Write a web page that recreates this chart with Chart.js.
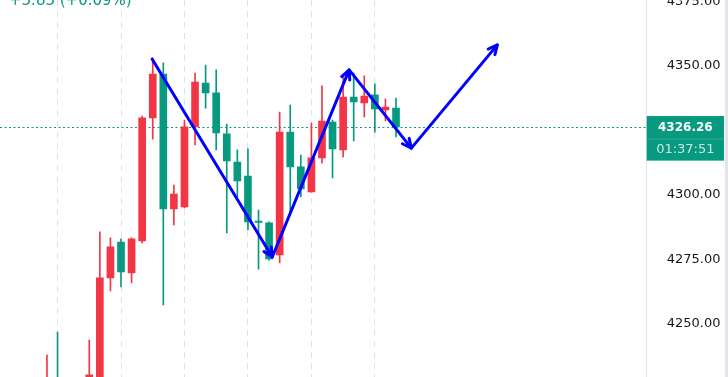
<!DOCTYPE html>
<html>
<head>
<meta charset="utf-8">
<script src="https://cdn.jsdelivr.net/npm/chart.js@4.4.1/dist/chart.umd.min.js"></script>
<style>
    html, body { margin: 0; padding: 0; background: #fff; }
    #wrap { width: 728px; height: 377px; }
</style>
</head>
<body>
<div id="wrap"><canvas id="priceChart" width="728" height="377"></canvas></div>
<script>
// candles left to right (index 0 = first one showing), red = up, green = down on this chart
const opens  = [4215, 4227, null, null, 4220, 4225, 4267.8, 4281.7, 4269.7, 4282.1, 4329.8, 4346.8, 4294.5, 4295.3, 4326.3, 4343.3, 4339.5, 4323.6, 4312.7, 4307.3, 4289.8, 4289.1, 4276.7, 4324.3, 4310.8, 4301.1, 4314.3, 4328.2, 4317.4, 4337.9, 4335.6, 4338.7, 4332.9, 4333.6];
const highs  = [4237.9, 4246.8, null, null, 4243.7, 4285.6, 4283.3, 4282.9, 4283.3, 4330.5, 4353.0, 4351.1, 4303.8, 4329.0, 4347.2, 4350.3, 4348.4, 4327.4, 4317.4, 4317.8, 4294.1, 4289.5, 4332.1, 4334.8, 4315.4, 4327.8, 4342.2, 4329.0, 4345.7, 4347.2, 4346.1, 4343.0, 4337.1, 4337.5];
const lows   = [4212, 4210, null, null, 4215, 4222, 4262.7, 4264.3, 4265.8, 4281.3, 4321.6, 4257.3, 4288.3, 4294.9, 4319.3, 4333.6, 4317.4, 4285.2, 4299.2, 4286.4, 4271.2, 4274.7, 4273.6, 4292.2, 4299.2, 4301.0, 4312.3, 4306.5, 4314.7, 4320.9, 4330.2, 4324.3, 4328.6, 4322.4];
const closes = [4227, 4214, null, null, 4230.2, 4267.8, 4279.8, 4270.1, 4282.9, 4329.8, 4346.8, 4294.5, 4300.3, 4326.3, 4343.7, 4339.5, 4324.0, 4313.1, 4305.4, 4289.5, 4289.3, 4275.1, 4324.3, 4310.8, 4302.3, 4314.3, 4328.6, 4317.8, 4337.9, 4336.0, 4338.3, 4333.3, 4334.0, 4326.26];

const yTicks = [4250, 4275, 4300, 4350, 4375];
const gridIdx = [1, 7, 13, 19, 25, 31];

// hand drawn arrows (bar index, price)
const arrowX = [9.94, 21.3, 28.57, 34.45, 42.58];
const arrowY = [4352.6, 4275.9, 4348.4, 4318.1, 4358.1];

const lastPrice = 4326.26;
const countdown = '01:37:51';
const changeText = '+3.83 (+0.09%)';

const UP = '#f23645';
const DOWN = '#089981';

const wicks = [], bodies = [], colors = [];
opens.forEach((o, i) => {
    if (o === null) return;
    wicks.push({ x: i, y: [lows[i], highs[i]] });
    bodies.push({ x: i, y: [o, closes[i]] });
    colors.push(closes[i] >= o ? UP : DOWN);
});

const overlay = {
    id: 'overlay',
    beforeDatasetsDraw(chart) {
        const { ctx, chartArea, scales } = chart;
        const py = Math.round(scales.y.getPixelForValue(lastPrice)) + 0.5;
        ctx.save();
        ctx.strokeStyle = DOWN;
        ctx.lineWidth = 1;
        ctx.setLineDash([2, 2.5]);
        ctx.beginPath();
        ctx.moveTo(chartArea.left, py);
        ctx.lineTo(chartArea.right, py);
        ctx.stroke();
        ctx.restore();
    },
    afterDatasetsDraw(chart) {
        const { ctx, scales } = chart;
        const pts = arrowX.map((v, i) => [scales.x.getPixelForValue(v), scales.y.getPixelForValue(arrowY[i])]);
        ctx.save();
        ctx.strokeStyle = '#0000ff';
        ctx.lineWidth = 3;
        ctx.lineCap = 'round';
        ctx.lineJoin = 'round';
        ctx.beginPath();
        pts.forEach(([px, py], i) => i ? ctx.lineTo(px, py) : ctx.moveTo(px, py));
        ctx.stroke();
        for (let i = 1; i < pts.length; i++) {
            const [x0, y0] = pts[i - 1];
            const [x1, y1] = pts[i];
            const a = Math.atan2(y1 - y0, x1 - x0);
            ctx.beginPath();
            ctx.moveTo(x1 - 10 * Math.cos(a - 0.45), y1 - 10 * Math.sin(a - 0.45));
            ctx.lineTo(x1, y1);
            ctx.lineTo(x1 - 10 * Math.cos(a + 0.45), y1 - 10 * Math.sin(a + 0.45));
            ctx.stroke();
        }
        ctx.restore();
    },
    afterDraw(chart) {
        const { ctx, chartArea, scales, width } = chart;
        const py = scales.y.getPixelForValue(lastPrice);
        const left = chartArea.right;
        const right = 724;
        ctx.save();
        // price / countdown tag
        ctx.fillStyle = DOWN;
        ctx.fillRect(left, py - 11, right - left, 44.6);
        ctx.fillStyle = 'rgba(255,255,255,0.18)';
        ctx.fillRect(left, py + 11.5, right - left, 1);
        ctx.textAlign = 'center';
        ctx.textBaseline = 'middle';
        ctx.fillStyle = '#fff';
        ctx.font = 'bold 12px "DejaVu Sans"';
        ctx.fillText(lastPrice.toFixed(2), (left + right) / 2, py + 0.5);
        ctx.fillStyle = 'rgba(255,255,255,0.78)';
        ctx.font = '13px "DejaVu Sans"';
        ctx.fillText(countdown, (left + right) / 2, py + 22.5);
        // right edge shade
        ctx.fillStyle = '#e3e4e8';
        ctx.fillRect(width - 3, 0, 3, chart.height);
        // legend change text, cut by the top edge
        ctx.textAlign = 'left';
        ctx.textBaseline = 'alphabetic';
        ctx.fillStyle = DOWN;
        ctx.font = '15px "DejaVu Sans"';
        ctx.fillText(changeText, 9, 5);
        ctx.restore();
    }
};

new Chart(document.getElementById('priceChart'), {
    type: 'bar',
    data: {
        datasets: [{
            data: wicks,
            backgroundColor: colors,
            barThickness: 1,
            grouped: false
        }, {
            data: bodies,
            backgroundColor: colors,
            barThickness: 7,
            minBarLength: 1,
            grouped: false
        }]
    },
    options: {
        responsive: false,
        animation: false,
        layout: { padding: 0 },
        plugins: {
            legend: { display: false },
            tooltip: { enabled: false }
        },
        scales: {
            x: {
                type: 'linear',
                offset: false,
                min: -4.44,
                max: 56.7,
                ticks: { display: false },
                grid: { color: '#dfe1e8', drawTicks: false, offset: false },
                border: { display: false, dash: [6, 5] },
                afterBuildTicks: s => { s.ticks = gridIdx.map(v => ({ value: v })); },
                afterFit: s => { s.height = 0; s.paddingLeft = 0; s.paddingRight = 0; }
            },
            y: {
                position: 'right',
                min: 4229.38,
                max: 4375.5,
                grid: { display: false },
                border: { display: true, color: '#e0e3eb' },
                ticks: {
                    padding: 12,
                    color: '#131722',
                    font: { family: 'DejaVu Sans', size: 13 },
                    callback: v => v.toFixed(2)
                },
                afterBuildTicks: s => { s.ticks = yTicks.map(v => ({ value: v })); },
                afterFit: s => { s.width = 81.3; s.paddingTop = 0; s.paddingBottom = 0; }
            }
        }
    },
    plugins: [overlay]
});
</script>
</body>
</html>
